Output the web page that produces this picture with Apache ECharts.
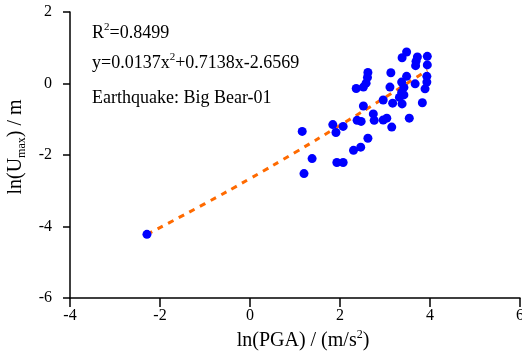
<!DOCTYPE html>
<html>
<head>
<meta charset="utf-8">
<script src="https://cdn.jsdelivr.net/npm/echarts@6/dist/echarts.min.js"></script>
<style>
  html, body { margin: 0; padding: 0; background: #fff; }
  #chart { width: 522px; height: 360px; }
</style>
</head>
<body>
<div id="chart"></div>
<script>
// ln(PGA) of each record
var pgaX = [-2.29, 1.16, 1.38, 1.20, 1.84, 1.91, 2.07, 1.93, 2.07, 2.30,
  2.46, 2.62, 2.38, 2.47, 2.76, 2.74, 2.52, 2.96, 3.04, 3.15,
  3.54, 2.96, 3.17, 3.38, 3.83, 2.36, 2.52, 2.58, 2.61, 2.62,
  3.13, 3.11, 3.48, 3.37, 3.42, 3.37, 3.42, 3.32, 3.67, 3.93,
  3.93, 3.89, 3.48, 3.38, 3.72, 3.94, 3.68, 3.94, 3.69];
// ln(Umax) of each record
var umaxY = [-4.22, -1.34, -2.10, -2.52, -1.15, -1.37, -1.20, -2.21, -2.21, -1.87,
  -1.78, -1.53, -1.03, -1.06, -1.03, -0.85, -0.63, -1.02, -0.97, -1.22,
  -0.97, -0.46, -0.55, -0.57, -0.54, -0.14, -0.10, 0.01, 0.17, 0.31,
  0.30, -0.10, 0.20, 0.04, -0.11, -0.25, -0.32, -0.39, -0.01, 0.20,
  0.04, -0.15, 0.88, 0.72, 0.74, 0.76, 0.50, 0.52, 0.62];

// fitted curve, read at a few x positions
var fitX = [-2.29, -1, 0, 1, 2, 3, 3.94];
var fitY = [-4.22, -3.36, -2.66, -1.93, -1.17, -0.39, 0.37];

var xTicks = [-4, -2, 0, 2, 4, 6];
var yTicks = [-6, -4, -2, 0, 2];

var chart = echarts.init(document.getElementById('chart'));

var pts = pgaX.map(function (x, i) { return [x, umaxY[i]]; });
var fit = fitX.map(function (x, i) { return [x, fitY[i]]; });

var font = 'Liberation Serif';
// rich styles for superscript / subscript pieces
var richText = {
  a: { fontFamily: font, fontSize: 18, lineHeight: 22, color: '#000' },
  sup: { fontFamily: font, fontSize: 11, lineHeight: 11, verticalAlign: 'top', color: '#000' },
  sub: { fontFamily: font, fontSize: 11, lineHeight: 11, verticalAlign: 'bottom', color: '#000' }
};
var richName = {
  a: { fontFamily: font, fontSize: 20, lineHeight: 24, color: '#000' },
  sup: { fontFamily: font, fontSize: 12, lineHeight: 12, verticalAlign: 'top', color: '#000' },
  sub: { fontFamily: font, fontSize: 12, lineHeight: 12, verticalAlign: 'bottom', color: '#000' }
};

var option = {
  backgroundColor: '#fff',
  animation: false,
  grid: { left: 70, right: 2, top: 12, bottom: 62, containLabel: false, outerBoundsMode: 'none' },
  xAxis: {
    type: 'value',
    min: xTicks[0], max: xTicks[xTicks.length - 1], interval: 2,
    name: '{a|ln(PGA) / (m/s}{sup|2}{a|)}',
    nameLocation: 'middle',
    nameGap: 31,
    nameTextStyle: { fontFamily: font, fontSize: 20, color: '#000', rich: richName, padding: [0, 0, 0, 16] },
    axisLine: { onZero: false, lineStyle: { color: '#000', width: 1.5 } },
    axisTick: { show: true, inside: false, length: 9, lineStyle: { color: '#000', width: 1.5 } },
    axisLabel: { fontFamily: font, fontSize: 16, color: '#000', margin: 10 },
    splitLine: { show: false }
  },
  yAxis: {
    type: 'value',
    min: yTicks[0], max: yTicks[yTicks.length - 1], interval: 2,
    name: '{a|ln(U}{sub|max}{a|) / m}',
    nameLocation: 'middle',
    nameGap: 42,
    nameMoveOverlap: false,
    nameRotate: 90,
    nameTextStyle: { fontFamily: font, fontSize: 20, color: '#000', rich: richName, padding: [0, 0, 0, 16] },
    axisLine: { onZero: false, lineStyle: { color: '#000', width: 1.5 } },
    axisTick: { show: true, inside: false, length: 7, lineStyle: { color: '#000', width: 1.5 } },
    axisLabel: { fontFamily: font, fontSize: 16, color: '#000', margin: 18 },
    splitLine: { show: false }
  },
  graphic: [
    {
      type: 'text', left: 92, top: 22,
      style: { text: '{a|R}{sup|2}{a|=0.8499}', rich: richText }
    },
    {
      type: 'text', left: 92, top: 52,
      style: { text: '{a|y=0.0137x}{sup|2}{a|+0.7138x-2.6569}', rich: richText }
    },
    {
      type: 'text', left: 92, top: 89,
      style: { text: '{a|Earthquake: Big Bear-01}', rich: richText }
    }
  ],
  series: [
    {
      type: 'line',
      data: fit,
      showSymbol: false,
      smooth: true,
      lineStyle: { color: '#FF6A00', width: 3, type: [6, 6] },
      z: 1
    },
    {
      type: 'scatter',
      data: pts,
      symbolSize: 9,
      itemStyle: { color: '#0000FF', opacity: 1 },
      z: 2
    }
  ]
};

chart.setOption(option);
</script>
</body>
</html>
